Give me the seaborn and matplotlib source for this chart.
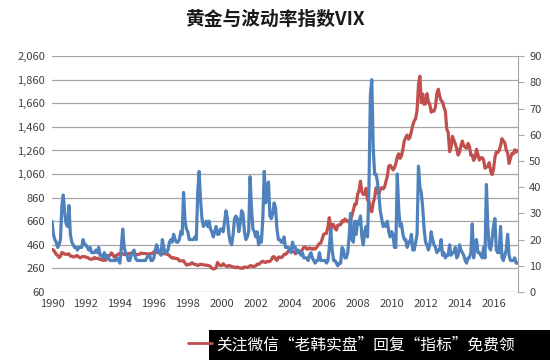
import pandas as pd
import matplotlib.pyplot as plt
import seaborn as sns

# monthly gold price (USD/oz)
gold = [
    420, 417, 400, 378, 369, 352, 362, 395, 390, 380, 381, 378,   # 1990
    384, 364, 363, 358, 357, 367, 368, 356, 349, 358, 360, 361,   # 1991
    354, 354, 345, 338, 337, 341, 353, 343, 345, 344, 335, 334,   # 1992
    329, 329, 330, 342, 367, 371, 392, 378, 355, 364, 374, 383,   # 1993
    387, 382, 384, 377, 381, 385, 385, 380, 391, 389, 384, 379,   # 1994
    379, 376, 382, 391, 385, 387, 386, 383, 383, 383, 386, 387,   # 1995
    400, 405, 396, 393, 392, 385, 383, 387, 383, 381, 378, 369,   # 1996
    355, 347, 351, 344, 344, 341, 324, 324, 323, 325, 306, 289,   # 1997
    289, 297, 296, 308, 299, 292, 293, 284, 289, 296, 294, 291,   # 1998
    287, 287, 286, 282, 276, 261, 256, 257, 265, 311, 293, 283,   # 1999
    284, 300, 286, 280, 275, 285, 282, 274, 273, 270, 266, 272,   # 2000
    266, 262, 263, 261, 272, 270, 268, 273, 283, 283, 276, 276,   # 2001
    282, 296, 294, 302, 314, 321, 313, 310, 319, 317, 319, 333,   # 2002
    357, 359, 340, 328, 355, 356, 351, 360, 379, 379, 389, 407,   # 2003
    414, 405, 406, 404, 384, 392, 398, 400, 406, 420, 439, 442,   # 2004
    424, 423, 434, 429, 422, 430, 424, 437, 456, 470, 476, 510,   # 2005
    549, 555, 557, 610, 690, 596, 633, 632, 598, 585, 627, 629,   # 2006
    631, 664, 655, 679, 667, 655, 665, 665, 712, 754, 806, 803,   # 2007
    889, 922, 1000, 909, 888, 889, 939, 839, 829, 760, 740, 816,  # 2008
    858, 943, 924, 890, 928, 945, 934, 949, 996, 1043, 1127, 1134,  # 2009
    1117, 1095, 1113, 1148, 1205, 1232, 1193, 1215, 1271, 1343, 1370, 1391,  # 2010
    1356, 1372, 1424, 1474, 1512, 1529, 1600, 1820, 1890, 1665, 1739, 1652,  # 2011
    1656, 1742, 1673, 1650, 1585, 1596, 1594, 1630, 1744, 1780, 1721, 1684,  # 2012
    1671, 1627, 1593, 1440, 1414, 1250, 1286, 1380, 1349, 1316, 1275, 1221,  # 2013
    1244, 1300, 1340, 1299, 1287, 1279, 1320, 1296, 1220, 1222, 1176, 1200,  # 2014
    1270, 1227, 1179, 1198, 1199, 1181, 1110, 1117, 1125, 1157, 1086, 1055,  # 2015
    1097, 1199, 1246, 1242, 1260, 1300, 1360, 1341, 1326, 1266, 1238, 1150,  # 2016
    1192, 1234, 1231, 1266, 1246, 1260,                           # 2017
]

# monthly VIX level
vix = [
    27, 22, 20, 19, 17, 18, 20, 33, 37, 30, 26, 25,   # 1990
    33, 22, 19, 18, 17, 17, 16, 17, 17, 17, 20, 18,   # 1991
    18, 17, 16, 17, 15, 15, 15, 16, 15, 17, 14, 14,   # 1992
    13, 15, 13, 14, 13, 12, 12, 12, 12, 12, 13, 12,   # 1993
    11, 17, 24, 17, 15, 14, 12, 12, 14, 15, 16, 13,   # 1994
    12, 12, 12, 12, 12, 12, 12, 13, 14, 14, 12, 12,   # 1995
    13, 16, 18, 16, 15, 14, 20, 17, 15, 15, 16, 19,   # 1996
    20, 19, 22, 20, 19, 19, 20, 23, 22, 38, 27, 24,   # 1997
    23, 20, 20, 20, 20, 21, 20, 38, 46, 35, 28, 25,   # 1998
    26, 27, 25, 27, 24, 23, 21, 23, 25, 22, 22, 24,   # 1999
    24, 23, 27, 31, 28, 22, 19, 18, 22, 28, 29, 28,   # 2000
    23, 26, 31, 30, 23, 20, 21, 23, 44, 32, 24, 23,   # 2001
    21, 23, 18, 21, 19, 28, 46, 34, 40, 42, 29, 28,   # 2002
    30, 34, 32, 24, 20, 20, 19, 19, 21, 17, 17, 17,   # 2003
    16, 15, 19, 17, 17, 15, 16, 15, 14, 15, 13, 13,   # 2004
    13, 12, 14, 15, 13, 12, 11, 12, 12, 15, 12, 12,   # 2005
    12, 12, 11, 12, 17, 24, 16, 12, 12, 11, 10, 11,   # 2006
    11, 17, 16, 13, 13, 15, 21, 30, 20, 19, 27, 22,   # 2007
    27, 26, 29, 21, 18, 23, 25, 21, 40, 75, 81, 55,   # 2008
    45, 45, 42, 37, 31, 28, 25, 26, 25, 27, 23, 21,   # 2009
    23, 22, 17, 17, 45, 32, 25, 26, 22, 20, 20, 17,   # 2010
    19, 19, 22, 16, 16, 19, 22, 48, 40, 38, 32, 24,   # 2011
    19, 18, 16, 18, 23, 20, 18, 17, 15, 16, 16, 20,   # 2012
    14, 15, 13, 14, 14, 18, 14, 15, 15, 17, 13, 14,   # 2013
    18, 16, 15, 14, 12, 11, 13, 13, 15, 26, 13, 18,   # 2014
    20, 15, 15, 14, 13, 17, 13, 41, 25, 17, 16, 20,   # 2015
    25, 28, 16, 15, 15, 25, 13, 12, 14, 16, 22, 14,   # 2016
    12, 12, 12, 13, 11, 11,                           # 2017
]

dates = pd.date_range('1990-01-01', periods=len(gold), freq='MS')
df = pd.DataFrame({
    'year': dates.year + (dates.month - 1) / 12,
    'gold': gold,
    'vix': vix,
})

year_ticks = list(range(1990, 2017, 2))
left_ticks = list(range(60, 2061, 200))
right_ticks = list(range(0, 91, 10))

sns.set_style('white')
plt.rcParams['font.family'] = ['Noto Sans CJK SC', 'DejaVu Sans']

fig = plt.figure(figsize=(5.5, 3.6), dpi=100)
ax = fig.add_axes([0.0945, 0.189, 0.8475, 0.655])
ax2 = ax.twinx()

sns.lineplot(data=df, x='year', y='gold', ax=ax, color='#C0504D', linewidth=2.3)
sns.lineplot(data=df, x='year', y='vix', ax=ax2, color='#4F81BD', linewidth=2.3)

ax.set_ylim(60, 2060)
ax.set_yticks(left_ticks)
ax.set_yticklabels([f'{v:,}' for v in left_ticks])
ax2.set_ylim(0, 90)
ax2.set_yticks(right_ticks)
ax.set_xlim(1990, 2017.45)
ax.set_xticks(year_ticks)
ax.set_xlabel('')
ax.set_ylabel('')
ax2.set_ylabel('')

ax.grid(axis='y', color='#A6A6A6', linewidth=0.9)
ax.set_axisbelow(True)
for a in (ax, ax2):
    for s in ('top', 'left', 'bottom', 'right'):
        a.spines[s].set_visible(False)
ax2.spines['right'].set_visible(True)
ax2.spines['right'].set_color('#A6A6A6')

ax.tick_params(axis='both', length=0, labelsize=8, colors='#404040', pad=5)
ax2.tick_params(axis='y', length=4, color='#A6A6A6', labelsize=8, labelcolor='#404040', pad=4)

fig.suptitle('黄金与波动率指数VIX', y=0.972, fontsize=13.5, fontweight='bold', color='#1a1a1a')

# legend line, mostly covered by the watermark box
fig.add_artist(plt.Line2D([0.342, 0.385], [0.047, 0.047], color='#C0504D', linewidth=2))
fig.add_artist(plt.Rectangle((0.38, 0), 0.62, 0.084, facecolor='black', edgecolor='none'))
fig.text(0.394, 0.042, '关注微信“老韩实盘”回复“指标”免费领', fontsize=11.3, color='white',
         ha='left', va='center')

plt.savefig('out.png', dpi=100)
